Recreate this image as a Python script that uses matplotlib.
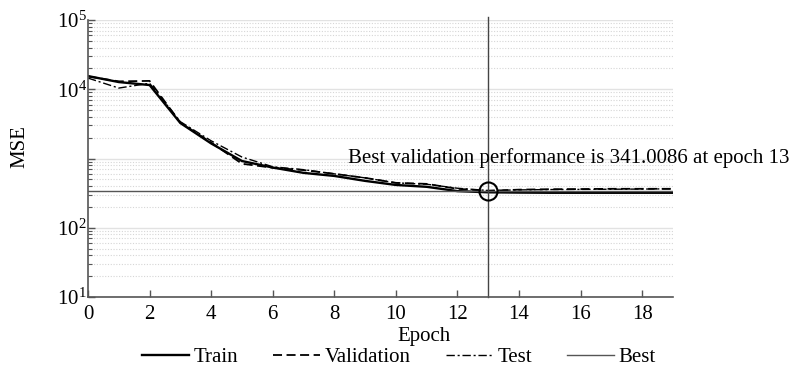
import matplotlib
matplotlib.use("Agg")
import matplotlib.pyplot as plt
from matplotlib.ticker import LogLocator, FixedLocator, NullFormatter
import numpy as np

plt.rcParams['font.family'] = ['Liberation Serif', 'DejaVu Serif']
plt.rcParams['mathtext.fontset'] = 'custom'
plt.rcParams['mathtext.rm'] = 'Liberation Serif'

# Performance per training epoch
epochs = list(range(20))
train = [15500, 12700, 11500, 3250, 1650, 920, 740, 620, 560, 475,
         415, 390, 338, 325, 322, 320, 320, 320, 320, 320]
validation = [15300, 13000, 13200, 3300, 1700, 840, 735, 680, 600, 525,
              445, 430, 365, 341.0086, 355, 360, 362, 365, 365, 365]
test = [14500, 10400, 12200, 3400, 1800, 1050, 760, 690, 600, 525,
        445, 425, 372, 345, 352, 356, 358, 360, 362, 365]
best_epoch = 13
best_value = 341.0086

x_ticks = [0, 2, 4, 6, 8, 10, 12, 14, 16, 18]
y_ticks = [1e1, 1e2, 1e3, 1e4, 1e5]
y_tick_labels = [r'$\mathregular{10^{1}}$', r'$\mathregular{10^{2}}$', '',
                 r'$\mathregular{10^{4}}$', r'$\mathregular{10^{5}}$']

FS = 15

fig = plt.figure(figsize=(7.98, 3.72), dpi=100)
ax = fig.add_axes([88/798, 1-297/372, (673-88)/798, (297-20)/372])

ax.set_yscale('log')
ax.set_xlim(0, 19)
ax.set_ylim(1e1, 1e5)

# grid: solid at decades, dotted at minor positions
ax.yaxis.set_minor_locator(LogLocator(base=10, subs=np.arange(2, 10)))
ax.yaxis.set_minor_formatter(NullFormatter())
ax.grid(True, which='major', axis='y', color='#e2e2e2', linewidth=1.0, linestyle='-')
ax.grid(True, which='minor', axis='y', color='#d6d6d6', linewidth=0.8, linestyle=(0, (1, 1.5)))
ax.set_axisbelow(True)

ax.plot(epochs, train, color='black', linewidth=1.7, linestyle='-', label='Train')
ax.plot(epochs, validation, color='black', linewidth=1.3, linestyle=(0, (5, 2.5)), label='Validation')
ax.plot(epochs, test, color='black', linewidth=1.0, linestyle=(0, (6, 2, 1.5, 2)), label='Test')
ax.axhline(best_value, color='#555555', linewidth=1.0, label='Best')
ax.axvline(best_epoch, ymin=0, ymax=1.012, color='#444444', linewidth=1.0, clip_on=False)
ax.plot([best_epoch], [best_value], marker='o', markersize=13, markerfacecolor='none',
        markeredgecolor='black', markeredgewidth=1.5, linestyle='none')

ax.text(8.45, 1000, 'Best validation performance is 341.0086 at epoch 13',
        fontsize=FS, va='center', ha='left', clip_on=False)

for side in ('top', 'right'):
    ax.spines[side].set_visible(False)
for side in ('left', 'bottom'):
    ax.spines[side].set_color('#555555')
    ax.spines[side].set_linewidth(1.2)

ax.xaxis.set_major_locator(FixedLocator(x_ticks))
ax.set_xticklabels([str(t) for t in x_ticks])
ax.yaxis.set_major_locator(FixedLocator(y_ticks))
ax.set_yticklabels(y_tick_labels)
ax.tick_params(axis='both', which='major', direction='in', length=5, width=1.0,
               color='#555555', labelsize=FS, pad=1)
ax.tick_params(axis='y', which='minor', direction='in', length=3, width=0.8, color='#555555')
ax.tick_params(axis='x', which='major', pad=6)

ax.set_xlabel('Epoch', fontsize=FS, va='top')
ax.xaxis.set_label_coords((424-88)/(673-88), (297-327)/277)
ax.set_ylabel('MSE', fontsize=FS, va='center')
ax.yaxis.set_label_coords((20-88)/(673-88), (297-147)/277)

handles, labels = ax.get_legend_handles_labels()
fig.legend(handles, labels, loc='center', ncol=4, frameon=False, fontsize=FS,
           bbox_to_anchor=(399/798, 1-357/372), handlelength=2.25, handletextpad=0.25,
           columnspacing=1.65, borderpad=0, borderaxespad=0)

fig.savefig('out.png', dpi=100)
